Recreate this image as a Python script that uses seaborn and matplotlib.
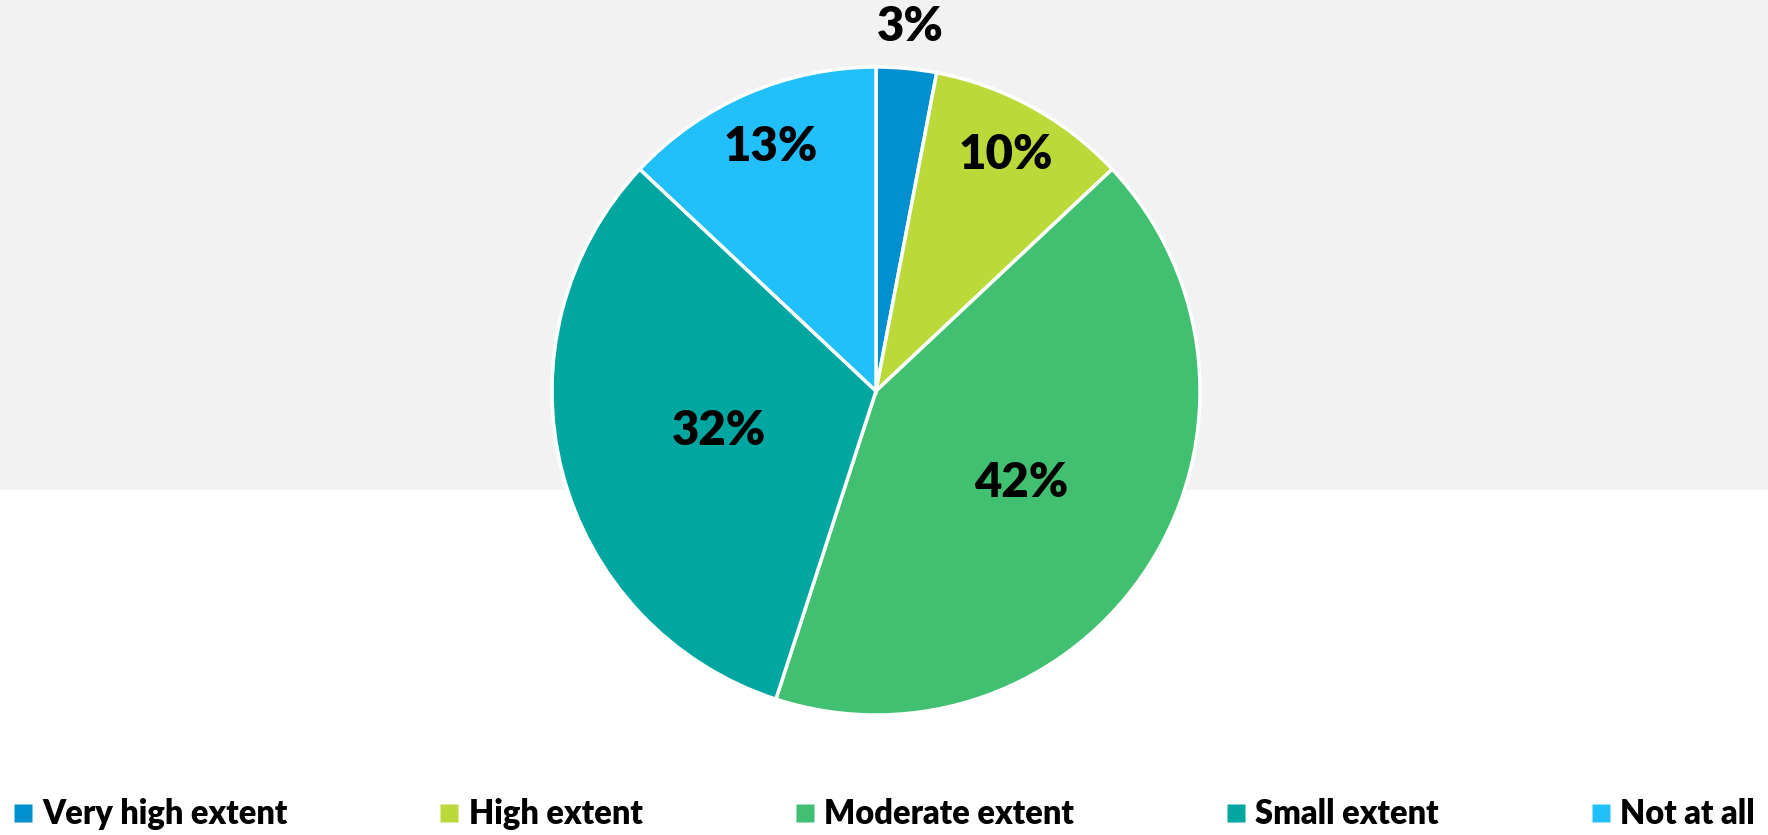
import matplotlib
matplotlib.use("Agg")
import matplotlib.pyplot as plt
import seaborn as sns
import numpy as np
from matplotlib.lines import Line2D
from matplotlib.patches import Rectangle

categories = ["Very high extent", "High extent", "Moderate extent", "Small extent", "Not at all"]
values = [3, 10, 42, 32, 13]
labels = ["3%", "10%", "42%", "32%", "13%"]
colors = ["#008FCF", "#BBD939", "#40C070", "#00A6A0", "#22C0FA"]
label_dist = [1.13, 0.83, 0.53, 0.5, 0.82]

sns.set_theme(style="white")
plt.rcParams['font.family'] = ['Lato', 'DejaVu Sans']
plt.rcParams['text.color'] = 'black'

W, H = 1768, 835
fig = plt.figure(figsize=(W / 100, H / 100), dpi=100)
fig.patch.set_facecolor("white")

# background axes with the gray band behind the top of the chart
bg = fig.add_axes([0, 0, 1, 1], zorder=-1)
bg.set_xlim(0, 1)
bg.set_ylim(0, 1)
bg.axis("off")
bg.add_patch(Rectangle((0, 1 - 490 / H), 1, 490 / H, facecolor="#F2F2F2", edgecolor="none"))

cx, cy, r = 876, 391, 324
ax = fig.add_axes([(cx - r) / W, (H - cy - r) / H, 2 * r / W, 2 * r / H], zorder=1)
ax.set_facecolor("none")
wedges, _ = ax.pie(values, colors=colors, startangle=90, counterclock=False,
                   radius=1.0, wedgeprops=dict(edgecolor="white", linewidth=2.5))
ax.set_xlim(-1, 1)
ax.set_ylim(-1, 1)
ax.set_aspect("equal")
ax.axis("off")

for w, lab, d in zip(wedges, labels, label_dist):
    ang = np.deg2rad((w.theta1 + w.theta2) / 2)
    ax.text(d * np.cos(ang), d * np.sin(ang), lab, ha="center", va="center",
            fontsize=34, fontweight="heavy", color="black", clip_on=False)

handles = [Line2D([0], [0], marker="s", linestyle="none", markersize=13,
                  markerfacecolor=c, markeredgecolor="none") for c in colors]
leg = fig.legend(handles, categories, loc="center", ncol=5, mode="expand",
                 bbox_to_anchor=(0.0, 1 - 814 / H - 0.03, 1.0, 0.06), bbox_transform=fig.transFigure,
                 frameon=False, handlelength=0.6, handletextpad=0.3, borderaxespad=0,
                 prop=dict(size=23.5, weight="heavy"))
for t in leg.get_texts():
    t.set_color("black")

fig.savefig("out.png", dpi=100, facecolor="white")
